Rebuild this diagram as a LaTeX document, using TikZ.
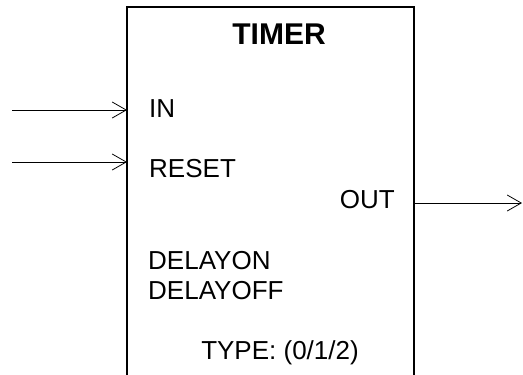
\documentclass[tikz,border=0pt]{standalone}
\usepackage{fontspec}
\setmainfont{Liberation Sans}
\usetikzlibrary{arrows.meta}

\begin{document}
\begin{tikzpicture}[x=1bp, y=-1bp,
    pin/.style = {-{Straight Barb[length=14bp, width=16bp]}, line width=0.8bp},
    lbl/.style = {inner sep=0pt, font=\fontsize{26bp}{31bp}\selectfont}]
  \useasboundingbox (0,0) rectangle (523,374);
  \clip (0,0) rectangle (523,374);
  % block outline, open at the bottom
  \draw[line width=1.2bp] (127,380) -- (127,7) -- (414,7) -- (414,380);
  \coordinate (in-src)    at (12,110);
  \coordinate (in)        at (127,110);
  \coordinate (reset-src) at (12,162);
  \coordinate (reset)     at (127,162);
  \coordinate (out)       at (414,203);
  \coordinate (out-dst)   at (522,203);
  \draw[pin] (in-src) -- (in);
  \draw[pin] (reset-src) -- (reset);
  \draw[pin] (out) -- (out-dst);
  \node [lbl, anchor=base, font=\fontsize{30bp}{36bp}\selectfont\bfseries]
    (title) at (279,44) {TIMER};
  \node [lbl, anchor=base west] (in-lbl)    at (149,117) {IN};
  \node [lbl, anchor=base west] (reset-lbl) at (149,177) {RESET};
  \node [lbl, anchor=base east] (out-lbl)   at (395,208) {OUT};
  \node [lbl, anchor=base west] (don-lbl)   at (148,269) {DELAYON};
  \node [lbl, anchor=base west] (doff-lbl)  at (148,299) {DELAYOFF};
  \node [lbl, anchor=base] (type-lbl) at (280,359) {TYPE: (0/1/2)};
\end{tikzpicture}
\end{document}
